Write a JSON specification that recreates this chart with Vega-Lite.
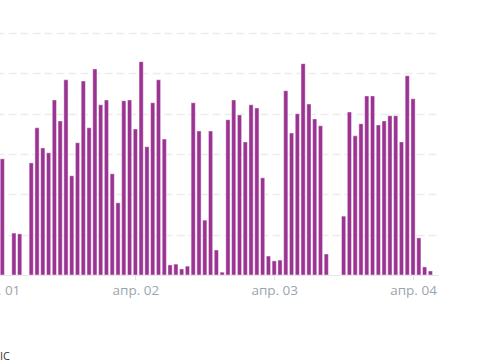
{
  "$schema": "https://vega.github.io/schema/vega-lite/v6.json",
  "width": 478,
  "height": 242,
  "autosize": {"type": "none"},
  "padding": {"left": -40, "top": 33, "right": 48, "bottom": 85},
  "background": "#ffffff",
  "title": {
    "text": "IC",
    "orient": "bottom",
    "anchor": "start",
    "fontSize": 11,
    "fontWeight": "normal",
    "font": "Open Sans",
    "color": "#333333",
    "offset": 54,
    "dx": 40
  },
  "config": {"view": {"stroke": null}},
  "data": {
    "values": [
      {"t": "2024-04-01T01:00:00", "v": 28.8},
      {"t": "2024-04-01T03:00:00", "v": 10.4},
      {"t": "2024-04-01T04:00:00", "v": 10.2},
      {"t": "2024-04-01T06:00:00", "v": 27.8},
      {"t": "2024-04-01T07:00:00", "v": 36.5},
      {"t": "2024-04-01T08:00:00", "v": 31.5},
      {"t": "2024-04-01T09:00:00", "v": 30.3},
      {"t": "2024-04-01T10:00:00", "v": 43.4},
      {"t": "2024-04-01T11:00:00", "v": 38.2},
      {"t": "2024-04-01T12:00:00", "v": 48.4},
      {"t": "2024-04-01T13:00:00", "v": 24.6},
      {"t": "2024-04-01T14:00:00", "v": 32.8},
      {"t": "2024-04-01T15:00:00", "v": 48.1},
      {"t": "2024-04-01T16:00:00", "v": 36.5},
      {"t": "2024-04-01T17:00:00", "v": 51.1},
      {"t": "2024-04-01T18:00:00", "v": 42.2},
      {"t": "2024-04-01T19:00:00", "v": 43.4},
      {"t": "2024-04-01T20:00:00", "v": 25.1},
      {"t": "2024-04-01T21:00:00", "v": 17.9},
      {"t": "2024-04-01T22:00:00", "v": 43.2},
      {"t": "2024-04-01T23:00:00", "v": 43.4},
      {"t": "2024-04-02T00:00:00", "v": 36.2},
      {"t": "2024-04-02T01:00:00", "v": 52.9},
      {"t": "2024-04-02T02:00:00", "v": 31.8},
      {"t": "2024-04-02T03:00:00", "v": 42.7},
      {"t": "2024-04-02T04:00:00", "v": 48.4},
      {"t": "2024-04-02T05:00:00", "v": 33.7},
      {"t": "2024-04-02T06:00:00", "v": 2.5},
      {"t": "2024-04-02T07:00:00", "v": 2.7},
      {"t": "2024-04-02T08:00:00", "v": 1.5},
      {"t": "2024-04-02T09:00:00", "v": 2.2},
      {"t": "2024-04-02T10:00:00", "v": 42.7},
      {"t": "2024-04-02T11:00:00", "v": 35.7},
      {"t": "2024-04-02T12:00:00", "v": 13.6},
      {"t": "2024-04-02T13:00:00", "v": 35.7},
      {"t": "2024-04-02T14:00:00", "v": 6.2},
      {"t": "2024-04-02T15:00:00", "v": 0.7},
      {"t": "2024-04-02T16:00:00", "v": 38.5},
      {"t": "2024-04-02T17:00:00", "v": 43.4},
      {"t": "2024-04-02T18:00:00", "v": 39.7},
      {"t": "2024-04-02T19:00:00", "v": 33.0},
      {"t": "2024-04-02T20:00:00", "v": 42.2},
      {"t": "2024-04-02T21:00:00", "v": 41.4},
      {"t": "2024-04-02T22:00:00", "v": 24.1},
      {"t": "2024-04-02T23:00:00", "v": 4.7},
      {"t": "2024-04-03T00:00:00", "v": 3.5},
      {"t": "2024-04-03T01:00:00", "v": 3.7},
      {"t": "2024-04-03T02:00:00", "v": 45.7},
      {"t": "2024-04-03T03:00:00", "v": 35.2},
      {"t": "2024-04-03T04:00:00", "v": 40.0},
      {"t": "2024-04-03T05:00:00", "v": 52.4},
      {"t": "2024-04-03T06:00:00", "v": 42.4},
      {"t": "2024-04-03T07:00:00", "v": 38.7},
      {"t": "2024-04-03T08:00:00", "v": 37.0},
      {"t": "2024-04-03T09:00:00", "v": 5.2},
      {"t": "2024-04-03T12:00:00", "v": 14.6},
      {"t": "2024-04-03T13:00:00", "v": 40.4},
      {"t": "2024-04-03T14:00:00", "v": 34.5},
      {"t": "2024-04-03T15:00:00", "v": 37.5},
      {"t": "2024-04-03T16:00:00", "v": 44.4},
      {"t": "2024-04-03T17:00:00", "v": 44.4},
      {"t": "2024-04-03T18:00:00", "v": 37.2},
      {"t": "2024-04-03T19:00:00", "v": 38.2},
      {"t": "2024-04-03T20:00:00", "v": 39.5},
      {"t": "2024-04-03T21:00:00", "v": 39.5},
      {"t": "2024-04-03T22:00:00", "v": 33.0},
      {"t": "2024-04-03T23:00:00", "v": 49.4},
      {"t": "2024-04-04T00:00:00", "v": 43.7},
      {"t": "2024-04-04T01:00:00", "v": 9.2},
      {"t": "2024-04-04T02:00:00", "v": 2.0},
      {"t": "2024-04-04T03:00:00", "v": 1.0}
    ]
  },
  "mark": {
    "type": "bar",
    "width": 4.2,
    "color": "#9b3392",
    "stroke": "#ffffff",
    "strokeOpacity": 0.55,
    "strokeWidth": 0.8,
    "clip": true
  },
  "encoding": {
    "x": {
      "field": "t",
      "type": "temporal",
      "title": null,
      "scale": {
        "domain": [
          {"year": 2024, "month": 3, "date": 31, "hours": 18, "minutes": 33},
          {"year": 2024, "month": 4, "date": 4, "hours": 3, "minutes": 27}
        ]
      },
      "axis": {
        "values": [
          {"year": 2024, "month": 4, "date": 1},
          {"year": 2024, "month": 4, "date": 2},
          {"year": 2024, "month": 4, "date": 3},
          {"year": 2024, "month": 4, "date": 4}
        ],
        "labelExpr": "'апр. ' + timeFormat(datum.value, '%d')",
        "labelFont": "Open Sans",
        "labelFontSize": 13.5,
        "labelColor": "#9ba5af",
        "labelPadding": 3,
        "labelOverlap": false,
        "labelBound": false,
        "labelFlush": false,
        "domainColor": "#e6e6e6",
        "domainWidth": 1,
        "tickColor": "#e6e6e6",
        "tickSize": 5,
        "grid": false
      }
    },
    "y": {
      "field": "v",
      "type": "quantitative",
      "title": null,
      "scale": {"domain": [0, 60], "nice": false},
      "axis": {
        "values": [10, 20, 30, 40, 50, 60],
        "labels": false,
        "ticks": false,
        "domain": false,
        "grid": true,
        "gridColor": "#ececec",
        "gridWidth": 1.5,
        "gridDash": [8, 4]
      }
    }
  }
}
